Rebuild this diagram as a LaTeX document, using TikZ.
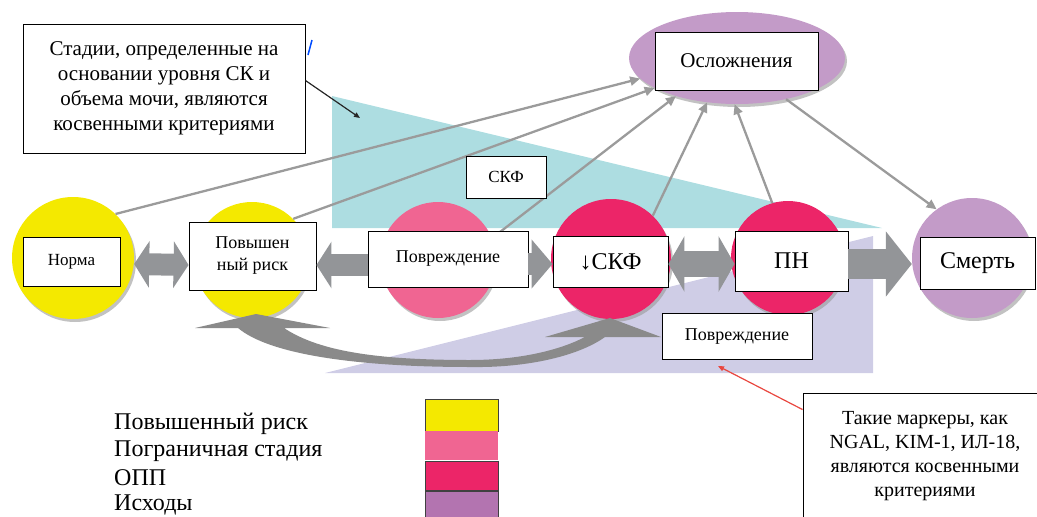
\documentclass[tikz,border=0pt]{standalone}
\usepackage{fontspec}
\setmainfont{Liberation Serif}
\usetikzlibrary{arrows.meta,shapes.geometric,shadows}
\definecolor{cyellow}{HTML}{F4E900}
\definecolor{cpink}{HTML}{F06592}
\definecolor{cred}{HTML}{EC2568}
\definecolor{cpurple}{HTML}{C39BC8}
\definecolor{clegpurple}{HTML}{B374B0}
\definecolor{ccyan}{HTML}{ADDDE1}
\definecolor{clav}{HTML}{CFCDE6}
\definecolor{cbig}{HTML}{939598}
\definecolor{cthin}{HTML}{9B9B9B}
\definecolor{ccurve}{HTML}{8A8A8A}
\definecolor{credline}{HTML}{E9473F}
\begin{document}
\begin{tikzpicture}[x=1pt,y=-1pt,
  stage/.style={circle, inner sep=0pt, minimum size=#1,
    drop shadow={shadow xshift=2pt,shadow yshift=-3pt,fill=black!40,opacity=.6}},
  lbox/.style={draw=black, line width=0.9pt, fill=white, inner sep=2pt, align=center},
  bigarr/.style={draw=cbig, line width=#1},
  thinarr/.style={draw=cthin, line width=2.3pt, -{Triangle[length=10pt,width=9pt]}},
  legtext/.style={anchor=west, inner sep=0pt, font=\fontsize{24}{28}\selectfont},
]
\useasboundingbox (0,0) rectangle (1037,517);

% background triangles
\fill[ccyan] (332,96) -- (332,228) -- (882,228) -- cycle;
\fill[clav] (325,373) -- (873,373) -- (873,236) -- cycle;

% stage circles
\node[stage=122pt, fill=cyellow] (normc) at (73,258) {};
\node[stage=116pt, fill=cyellow] (riskc) at (252,260) {};
\node[stage=116pt, fill=cpink] (injc) at (438,260) {};
\node[stage=120pt, fill=cred] (gfrc) at (611,259) {};
\node[stage=114pt, fill=cred] (pnc) at (788,258) {};
\node[stage=120pt, fill=cpurple] (deathc) at (972,258) {};
\node[ellipse, inner sep=0pt, minimum width=216pt, minimum height=92pt, fill=cpurple,
  drop shadow={shadow xshift=2pt,shadow yshift=-3pt,fill=black!40,opacity=.6}] (complc) at (737,58) {};

% curved double arrow at the bottom
\fill[ccurve] (195,328) -- (256,314) -- (330,328) -- (284,328)
  .. controls (320,352) and (380,360) .. (470,360)
  .. controls (520,360) and (560,350) .. (585,337)
  -- (545,337) -- (610,318) -- (661,337) -- (605,337)
  .. controls (580,355) and (530,368) .. (470,367)
  .. controls (360,367) and (270,355) .. (238,328) -- cycle;

% thin arrows to complications
\draw[thinarr] (normc.46) -- (complc.192);
\draw[thinarr] (riskc.45) -- (complc.200);
\draw[thinarr] (injc.22) -- (complc.212);
\draw[thinarr] (gfrc.46) -- (complc.236);
\draw[thinarr] (pnc.106) -- (complc.267);
\draw[thinarr] (complc.320) -- (deathc.126);

% label boxes
\node[lbox, minimum width=97pt, minimum height=49pt, font=\fontsize{17}{20}\selectfont] (normb) at (71.5,261.5) {Норма};
\node[lbox, minimum width=127pt, minimum height=68pt, font=\fontsize{18}{22}\selectfont] (riskb) at (252.5,256) {Повышен\\ный риск};
\node[lbox, minimum width=160pt, minimum height=56pt, font=\fontsize{18}{22}\selectfont] (injb) at (448,259) {Повреждение};
\node[lbox, minimum width=115pt, minimum height=51pt, font=\fontsize{24}{28}\selectfont] (gfrb) at (610.5,262) {↓СКФ};
\node[lbox, minimum width=113pt, minimum height=60pt, font=\fontsize{24}{28}\selectfont] (pnb) at (791.5,261) {ПН};
\node[lbox, minimum width=115pt, minimum height=52pt, font=\fontsize{24}{28}\selectfont] (deathb) at (977.5,263) {Смерть};
\node[lbox, minimum width=163pt, minimum height=58pt, font=\fontsize{21}{25}\selectfont] (complb) at (736.5,61) {Осложнения};
\node[lbox, minimum width=80pt, minimum height=42pt, font=\fontsize{17}{20}\selectfont] (skfb) at (506,177) {СКФ};

% big gray arrows between stages
\draw[bigarr=22pt, {Triangle[length=15pt,width=46pt]}-{Triangle[length=15pt,width=46pt]}]
  ([yshift=-6pt]normc.east) -- ([yshift=-9pt]riskb.west);
\draw[bigarr=22pt, -{Triangle[length=15pt,width=46pt]}]
  ([yshift=-6pt]injb.west) -- ([yshift=-9pt]riskb.east);
\draw[bigarr=22pt, -{Triangle[length=21pt,width=48pt]}]
  ([yshift=-5pt]injb.east) -- ([yshift=-2pt]gfrb.west);
\draw[bigarr=26pt, {Triangle[length=16pt,width=55pt]}-{Triangle[length=16pt,width=55pt]}]
  ([yshift=-2pt]gfrb.east) -- ([yshift=-3pt]pnb.west);
\draw[bigarr=30pt, -{Triangle[length=26pt,width=64pt]}]
  ([yshift=-3pt]pnb.east) -- ([yshift=-6pt]deathc.west);

% lower injury box
\node[lbox, minimum width=150pt, minimum height=46pt, font=\fontsize{18}{22}\selectfont] (inj2b) at (737,336.5) {Повреждение};

% notes
\node[lbox, minimum width=282pt, minimum height=129pt, font=\fontsize{21}{25}\selectfont] (note1) at (164,88.5)
  {Стадии, определенные на\\основании уровня СК и\\объема мочи, являются\\косвенными критериями};
\draw[blue!70!cyan, line width=1.5pt] (308,55) -- (312,40);
\coordinate (bltip) at (360,118);
\draw[black!85, line width=1.2pt, -{Triangle[length=6pt,width=5pt]}] ([yshift=8pt]note1.east) -- (bltip);

\node[lbox, minimum width=244pt, minimum height=126pt, font=\fontsize{20}{24}\selectfont] (note2) at (925,456)
  {Такие маркеры, как\\NGAL, KIM-1, ИЛ-18,\\являются косвенными\\критериями};
\coordinate (redtip) at (718,366);
\draw[credline, line width=1.2pt, -{Triangle[length=6pt,width=5pt]}] ([yshift=-17pt]note2.north west) -- (redtip);

% legend
\node[legtext] (leg1) at (114,424) {Повышенный риск};
\node[legtext] (leg2) at (114,451) {Пограничная стадия};
\node[legtext] (leg3) at (114,478) {ОПП};
\node[legtext] (leg4) at (114,505) {Исходы};
\draw[fill=cyellow, draw=black!75, line width=1pt] (425,399) rectangle (498,431);
\fill[cpink] (425,431) rectangle (498,460);
\draw[fill=cred, draw=black!75, line width=1pt] (425,461) rectangle (498,490);
\draw[fill=clegpurple, draw=black!75, line width=1pt] (425,491) rectangle (498,522);
\end{tikzpicture}
\end{document}
